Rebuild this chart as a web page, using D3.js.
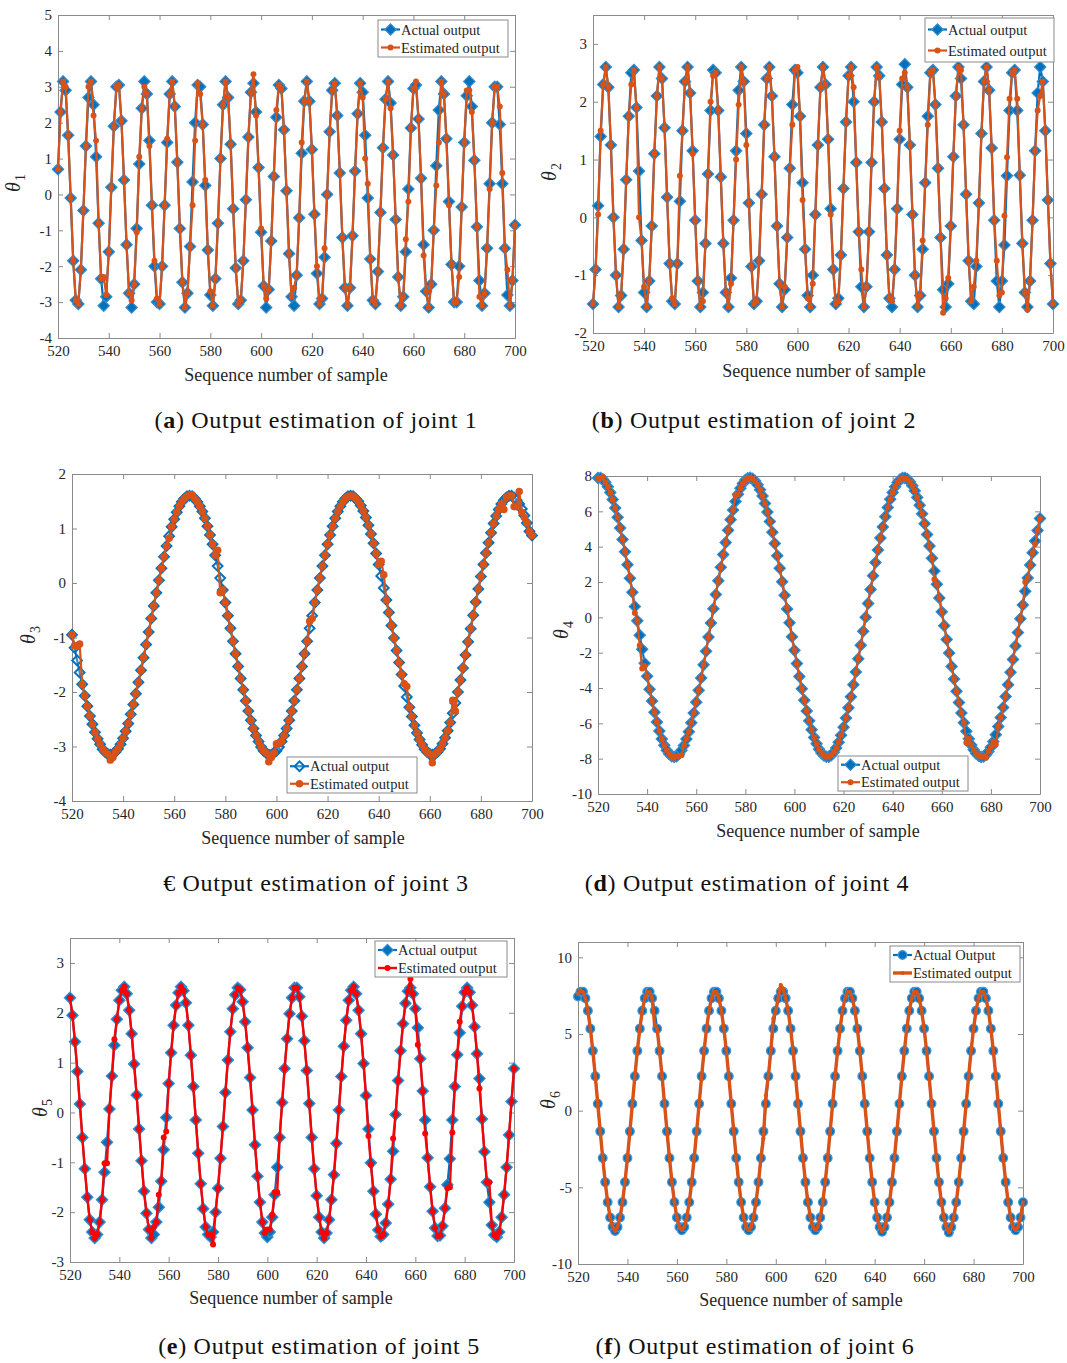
<!DOCTYPE html>
<html>
<head>
<meta charset="utf-8">
<script src="https://cdn.jsdelivr.net/npm/d3@7"></script>
<style>
  body { margin: 0; background: #fff; }
  svg { display: block; }
  text { font-family: "Liberation Serif", "Times New Roman", serif; }
</style>
</head>
<body>
<svg id="fig" width="1067" height="1363"></svg>
<script>
// ---- data -------------------------------------------------------------
const firstSample = 520;
const lastSample = 700;
const xTicks = [520, 540, 560, 580, 600, 620, 640, 660, 680, 700];

const yTicks1 = [-4, -3, -2, -1, 0, 1, 2, 3, 4, 5];
const yTicks2 = [-2, -1, 0, 1, 2, 3];
const yTicks3 = [-4, -3, -2, -1, 0, 1, 2];
const yTicks4 = [-10, -8, -6, -4, -2, 0, 2, 4, 6, 8];
const yTicks5 = [-3, -2, -1, 0, 1, 2, 3];
const yTicks6 = [-10, -5, 0, 5, 10];

// joint 1
const actual1 = [
  0.70, 2.30, 3.15, 2.90, 1.65, -0.10, -1.85, -2.95, -3.05, -2.10,
  -0.45, 1.35, 2.70, 3.15, 2.50, 1.05, -0.80, -2.35, -3.10, -2.85,
  -1.60, 0.20, 1.90, 3.00, 3.05, 2.05, 0.40, -1.40, -2.75, -3.15,
  -2.50, -0.95, 0.85, 2.40, 3.15, 2.80, 1.50, -0.30, -2.00, -3.00,
  -3.05, -2.00, -0.30, 1.45, 2.80, 3.15, 2.45, 0.90, -0.95, -2.45,
  -3.15, -2.75, -1.45, 0.35, 2.00, 3.05, 3.00, 1.95, 0.25, -1.55,
  -2.80, -3.10, -2.35, -0.80, 1.00, 2.50, 3.15, 2.70, 1.40, -0.40,
  -2.05, -3.05, -2.95, -1.85, -0.15, 1.60, 2.85, 3.10, 2.30, 0.75,
  -1.05, -2.55, -3.15, -2.65, -1.30, 0.50, 2.15, 3.05, 2.95, 1.80,
  0.10, -1.65, -2.85, -3.10, -2.25, -0.65, 1.15, 2.60, 3.15, 2.60,
  1.25, -0.55, -2.20, -3.05, -2.90, -1.75, 0.00, 1.75, 2.90, 3.10,
  2.20, 0.60, -1.20, -2.60, -3.10, -2.60, -1.15, 0.65, 2.25, 3.10,
  2.85, 1.65, -0.10, -1.80, -2.95, -3.05, -2.15, -0.50, 1.30, 2.65,
  3.15, 2.55, 1.10, -0.70, -2.30, -3.10, -2.85, -1.60, 0.15, 1.85,
  2.95, 3.05, 2.10, 0.45, -1.40, -2.70, -3.15, -2.50, -1.00, 0.80,
  2.35, 3.15, 2.80, 1.55, -0.20, -1.95, -3.00, -3.00, -2.00, -0.35,
  1.45, 2.75, 3.15, 2.45, 0.95, -0.90, -2.40, -3.10, -2.75, -1.50,
  0.30, 2.00, 3.00, 3.00, 1.95, 0.30, -1.50, -2.80, -3.10, -2.40,
  -0.85
];
const estimated1 = [
  0.70, 2.30, 3.15, 3.00, 1.65, -0.10, -1.85, -2.95, -3.05, -2.10,
  -0.45, 1.35, 3.00, 3.15, 2.20, 1.50, -0.80, -2.35, -2.30, -2.80,
  -1.60, 0.20, 1.90, 3.00, 3.05, 2.05, 0.40, -1.40, -2.75, -2.95,
  -2.50, -1.05, 1.05, 2.40, 3.00, 2.80, 1.35, -0.30, -1.85, -2.90,
  -3.05, -2.00, -0.30, 1.55, 2.80, 3.15, 2.45, 0.90, -0.95, -2.45,
  -3.15, -2.75, -1.45, -0.30, 1.50, 3.10, 2.80, 1.95, 0.40, -1.55,
  -2.70, -3.10, -2.35, -0.80, 1.00, 2.50, 3.15, 2.70, 1.40, -0.40,
  -2.05, -3.05, -2.95, -1.85, -0.15, 1.60, 2.85, 3.35, 2.20, 0.75,
  -0.95, -2.55, -2.90, -2.65, -1.30, 0.50, 2.35, 3.05, 2.95, 1.80,
  0.10, -1.65, -2.85, -2.60, -2.25, -0.65, 1.45, 2.60, 3.15, 2.60,
  1.25, -0.55, -2.00, -3.05, -2.90, -1.50, 0.00, 1.75, 2.90, 3.10,
  2.20, 0.60, -1.20, -2.60, -3.10, -2.60, -1.15, 0.65, 2.25, 3.10,
  2.70, 1.00, 0.30, -1.80, -2.95, -3.05, -2.15, -0.50, 1.30, 2.65,
  3.15, 2.40, 1.10, -0.70, -2.30, -3.10, -2.85, -1.25, -0.20, 1.85,
  2.95, 3.15, 2.10, 0.45, -1.70, -2.70, -3.15, -2.50, -1.00, 0.25,
  1.45, 3.15, 2.80, 1.55, -0.30, -1.95, -3.00, -3.00, -2.30, -0.35,
  1.45, 2.90, 2.90, 2.30, 0.95, -0.90, -2.85, -3.10, -2.75, -1.50,
  0.15, 2.00, 3.00, 3.00, 2.45, 0.60, -1.50, -2.10, -3.10, -2.40,
  -0.85
];

// joint 2
const actual2 = [
  -1.50, -0.90, 0.20, 1.40, 2.30, 2.60, 2.25, 1.25, 0.00, -1.00,
  -1.55, -1.35, -0.55, 0.65, 1.75, 2.50, 2.55, 1.90, 0.80, -0.40,
  -1.30, -1.55, -1.10, -0.15, 1.10, 2.10, 2.60, 2.40, 1.55, 0.35,
  -0.80, -1.45, -1.50, -0.80, 0.28, 1.50, 2.35, 2.60, 2.15, 1.15,
  -0.05, -1.10, -1.55, -1.30, -0.45, 0.75, 1.85, 2.55, 2.50, 1.85,
  0.70, -0.45, -1.30, -1.55, -1.05, -0.05, 1.15, 2.20, 2.60, 2.35,
  1.45, 0.25, -0.85, -1.50, -1.45, -0.75, 0.40, 1.60, 2.40, 2.60,
  2.10, 1.05, -0.15, -1.15, -1.55, -1.25, -0.35, 0.85, 1.95, 2.55,
  2.50, 1.75, 0.60, -0.55, -1.35, -1.55, -1.00, 0.05, 1.25, 2.25,
  2.60, 2.30, 1.35, 0.15, -0.90, -1.50, -1.40, -0.65, 0.50, 1.65,
  2.45, 2.60, 2.00, 0.95, -0.25, -1.20, -1.55, -1.20, -0.25, 0.95,
  2.00, 2.60, 2.45, 1.65, 0.50, -0.65, -1.40, -1.55, -0.90, 0.15,
  1.35, 2.30, 2.65, 2.25, 1.25, 0.05, -1.00, -1.55, -1.35, -0.55,
  0.60, 1.75, 2.50, 2.55, 1.95, 0.85, -0.35, -1.25, -1.55, -1.15,
  -0.15, 1.05, 2.10, 2.60, 2.40, 1.60, 0.40, -0.75, -1.45, -1.50,
  -0.85, 0.25, 1.45, 2.35, 2.60, 2.20, 1.20, -0.05, -1.10, -1.55,
  -1.10, -0.48, 0.72, 1.85, 2.50, 2.55, 1.85, 0.73, -0.45, -1.30,
  -1.55, -1.10, -0.05, 1.15, 2.15, 2.60, 2.35, 1.50, 0.30, -0.80,
  -1.50
];
const estimated2 = [
  -1.50, -0.90, 0.05, 1.50, 2.30, 2.60, 2.25, 1.25, 0.00, -1.00,
  -1.55, -1.35, -0.55, 0.65, 1.75, 2.30, 2.55, 1.90, 0.00, -0.40,
  -1.20, -1.55, -1.10, -0.15, 1.10, 2.10, 2.60, 2.40, 1.55, 0.35,
  -0.80, -1.40, -1.50, -0.80, 0.72, 1.50, 2.35, 2.60, 2.15, 1.10,
  -0.05, -1.10, -1.55, -1.45, -0.45, 0.75, 2.00, 2.45, 2.50, 1.85,
  0.70, -0.45, -1.30, -1.55, -1.15, -0.05, 1.00, 1.95, 2.60, 2.35,
  1.25, 0.25, -0.85, -1.50, -1.45, -0.75, 0.40, 1.60, 2.40, 2.60,
  2.10, 1.05, -0.15, -1.15, -1.55, -1.20, -0.35, 0.85, 1.60, 2.55,
  2.60, 1.75, 0.30, -0.55, -1.40, -1.55, -1.15, 0.05, 1.25, 2.25,
  2.60, 2.30, 1.35, 0.05, -0.90, -1.50, -1.45, -0.65, 0.50, 1.65,
  2.45, 2.60, 2.25, 0.95, -0.25, -0.90, -1.55, -1.20, -0.25, 0.95,
  2.00, 2.60, 2.45, 1.65, 0.50, -0.65, -1.40, -1.45, -0.90, 0.15,
  1.50, 2.40, 2.50, 2.25, 1.25, 0.05, -1.00, -1.55, -1.35, -0.40,
  0.60, 1.60, 2.50, 2.55, 1.95, 0.85, -0.35, -1.65, -1.40, -1.05,
  -0.15, 1.05, 2.10, 2.60, 2.55, 1.60, 0.40, -0.75, -1.45, -1.20,
  -0.75, 0.25, 1.45, 2.35, 2.60, 2.20, 1.20, -0.05, -0.75, -1.35,
  -1.30, 0.03, 1.04, 2.05, 2.50, 2.55, 2.05, 0.73, -0.45, -1.30,
  -1.60, -1.10, -0.05, 1.15, 1.85, 2.10, 2.35, 1.50, 0.30, -0.80,
  -1.50
];

// joint 3
const actual3 = [
  -0.95, -1.19, -1.42, -1.64, -1.86, -2.07, -2.26, -2.44, -2.59, -2.74,
  -2.86, -2.96, -3.05, -3.10, -3.14, -3.15, -3.14, -3.10, -3.04, -2.96,
  -2.85, -2.72, -2.58, -2.41, -2.23, -2.03, -1.82, -1.60, -1.37, -1.13,
  -0.90, -0.65, -0.42, -0.18, 0.05, 0.27, 0.48, 0.68, 0.86, 1.03,
  1.17, 1.30, 1.41, 1.49, 1.55, 1.59, 1.60, 1.59, 1.55, 1.49,
  1.41, 1.31, 1.19, 1.04, 0.88, 0.71, 0.51, 0.31, 0.09, -0.13,
  -0.36, -0.60, -0.83, -1.07, -1.30, -1.53, -1.75, -1.96, -2.16, -2.35,
  -2.52, -2.67, -2.80, -2.91, -3.01, -3.08, -3.12, -3.15, -3.15, -3.12,
  -3.08, -3.01, -2.91, -2.80, -2.67, -2.52, -2.35, -2.16, -1.96, -1.75,
  -1.53, -1.30, -1.07, -0.83, -0.60, -0.36, -0.13, 0.09, 0.31, 0.51,
  0.71, 0.88, 1.04, 1.19, 1.31, 1.41, 1.49, 1.55, 1.59, 1.60,
  1.59, 1.55, 1.50, 1.42, 1.32, 1.20, 1.06, 0.90, 0.73, 0.54,
  0.34, 0.13, -0.09, -0.31, -0.54, -0.78, -1.01, -1.24, -1.46, -1.68,
  -1.89, -2.09, -2.28, -2.45, -2.61, -2.75, -2.87, -2.97, -3.05, -3.10,
  -3.14, -3.15, -3.14, -3.10, -3.04, -2.95, -2.84, -2.71, -2.56, -2.39,
  -2.20, -2.00, -1.78, -1.56, -1.32, -1.08, -0.84, -0.59, -0.35, -0.11,
  0.12, 0.34, 0.55, 0.74, 0.92, 1.09, 1.23, 1.35, 1.45, 1.52,
  1.57, 1.60, 1.60, 1.57, 1.52, 1.45, 1.36, 1.24, 1.10, 0.95,
  0.87
];
const estimated3 = [
  -0.95, -1.15, -1.15, -1.12, -1.86, -2.07, -2.26, -2.44, -2.59, -2.74,
  -2.86, -2.96, -3.05, -3.10, -3.14, -3.25, -3.20, -3.10, -3.04, -2.96,
  -2.85, -2.72, -2.58, -2.41, -2.23, -2.03, -1.82, -1.60, -1.37, -1.13,
  -0.90, -0.65, -0.42, -0.18, 0.05, 0.27, 0.48, 0.68, 0.82, 1.03,
  1.17, 1.30, 1.41, 1.49, 1.55, 1.59, 1.62, 1.62, 1.55, 1.49,
  1.41, 1.31, 1.19, 1.04, 0.88, 0.71, 0.51, 0.60, -0.18, -0.13,
  -0.36, -0.60, -0.83, -1.07, -1.30, -1.53, -1.75, -1.96, -2.16, -2.35,
  -2.52, -2.67, -2.80, -2.91, -3.01, -3.08, -3.12, -3.28, -3.20, -3.12,
  -2.95, -2.95, -2.91, -2.80, -2.67, -2.52, -2.35, -2.16, -1.96, -1.75,
  -1.53, -1.30, -1.07, -0.70, -0.65, -0.36, -0.13, 0.09, 0.31, 0.51,
  0.71, 0.88, 1.04, 1.19, 1.31, 1.41, 1.49, 1.55, 1.59, 1.60,
  1.59, 1.55, 1.50, 1.42, 1.32, 1.20, 1.06, 0.90, 0.73, 0.54,
  0.34, 0.40, 0.15, -0.31, -0.54, -0.78, -1.01, -1.24, -1.46, -1.68,
  -1.85, -1.90, -2.28, -2.45, -2.61, -2.75, -2.87, -2.97, -3.05, -3.10,
  -3.14, -3.30, -3.14, -3.10, -3.04, -2.95, -2.84, -2.71, -2.56, -2.15,
  -2.35, -2.00, -1.78, -1.56, -1.32, -1.08, -0.84, -0.59, -0.35, -0.11,
  0.12, 0.34, 0.55, 0.74, 0.92, 1.09, 1.23, 1.35, 1.45, 1.35,
  1.57, 1.60, 1.60, 1.40, 1.40, 1.68, 1.30, 1.20, 1.10, 0.95,
  0.87
];

// joint 4
const actual4 = [
  7.89, 7.89, 7.81, 7.64, 7.39, 7.07, 6.67, 6.19, 5.66, 5.06,
  4.41, 3.71, 2.98, 2.21, 1.42, 0.61, -0.20, -1.01, -1.81, -2.60,
  -3.34, -4.07, -4.74, -5.37, -5.93, -6.44, -6.88, -7.24, -7.53, -7.73,
  -7.86, -7.90, -7.86, -7.74, -7.53, -7.25, -6.89, -6.47, -5.97, -5.41,
  -4.80, -4.13, -3.43, -2.69, -1.92, -1.12, -0.32, 0.48, 1.29, 2.07,
  2.83, 3.55, 4.23, 4.93, 5.53, 6.07, 6.56, 6.97, 7.31, 7.58,
  7.77, 7.87, 7.90, 7.84, 7.71, 7.50, 7.22, 6.87, 6.45, 5.96,
  5.42, 4.82, 4.18, 3.49, 2.78, 2.02, 1.25, 0.47, -0.31, -1.10,
  -1.87, -2.62, -3.35, -4.04, -4.69, -5.30, -5.86, -6.36, -6.80, -7.15,
  -7.46, -7.68, -7.82, -7.89, -7.89, -7.80, -7.63, -7.39, -7.07, -6.68,
  -6.22, -5.70, -5.12, -4.49, -3.81, -3.10, -2.35, -1.58, -0.79, 0.00,
  0.79, 1.58, 2.35, 3.10, 3.81, 4.49, 5.12, 5.70, 6.22, 6.68,
  7.07, 7.39, 7.63, 7.80, 7.89, 7.89, 7.82, 7.68, 7.45, 7.16,
  6.79, 6.35, 5.86, 5.30, 4.69, 4.04, 3.35, 2.62, 1.87, 1.10,
  0.31, -0.47, -1.25, -2.02, -2.78, -3.49, -4.18, -4.82, -5.42, -5.96,
  -6.45, -6.87, -7.22, -7.50, -7.71, -7.84, -7.90, -7.88, -7.78, -7.60,
  -7.35, -7.03, -6.64, -6.18, -5.67, -5.10, -4.48, -3.81, -3.11, -2.38,
  -1.62, -0.86, -0.08, 0.70, 1.47, 2.23, 2.96, 3.66, 4.32, 4.92,
  5.60
];
const estimated4 = [
  7.89, 7.89, 7.95, 7.64, 7.39, 7.07, 6.67, 6.19, 5.66, 5.06,
  4.41, 3.71, 2.98, 2.30, 1.42, 0.25, -0.20, -1.60, -2.90, -2.75,
  -3.34, -4.07, -4.74, -5.37, -5.93, -6.44, -6.88, -7.24, -7.53, -7.73,
  -7.86, -7.95, -7.86, -7.85, -7.80, -7.25, -6.89, -6.47, -5.97, -5.41,
  -4.80, -4.13, -3.43, -2.69, -1.92, -1.12, -0.32, 0.48, 1.29, 2.07,
  2.83, 3.55, 4.23, 4.93, 5.53, 6.07, 6.90, 6.97, 7.31, 7.58,
  7.77, 7.87, 7.90, 7.84, 7.71, 7.50, 7.22, 6.87, 6.45, 5.96,
  5.42, 4.82, 4.18, 3.49, 2.78, 2.02, 1.25, 0.55, -0.31, -1.10,
  -1.87, -2.62, -3.35, -4.04, -4.69, -5.30, -5.86, -6.36, -6.80, -7.15,
  -7.46, -7.68, -7.82, -7.89, -7.89, -7.80, -7.63, -7.39, -7.07, -6.68,
  -6.22, -5.70, -5.12, -4.49, -3.81, -3.10, -2.35, -1.58, -0.79, 0.00,
  0.79, 1.58, 2.35, 3.10, 3.81, 4.49, 5.12, 5.70, 6.22, 6.68,
  7.07, 7.39, 7.63, 7.80, 7.89, 7.89, 7.82, 7.68, 7.45, 7.16,
  6.79, 6.35, 5.86, 5.30, 4.69, 4.04, 3.35, 2.15, 1.87, 1.10,
  0.31, -0.47, -1.25, -2.02, -2.78, -3.49, -4.18, -4.82, -5.42, -5.96,
  -7.10, -6.87, -7.22, -7.50, -7.71, -7.84, -7.90, -7.88, -7.95, -7.60,
  -7.35, -7.03, -7.20, -6.18, -5.67, -5.10, -4.48, -3.81, -3.11, -2.38,
  -1.62, -0.86, -0.08, 0.70, 2.00, 2.23, 2.96, 3.66, 4.15, 4.92,
  5.60
];

// joint 5
const actual5 = [
  2.30, 1.95, 1.42, 0.82, 0.17, -0.50, -1.13, -1.70, -2.15, -2.40,
  -2.52, -2.45, -2.20, -1.75, -1.20, -0.60, 0.07, 0.73, 1.35, 1.87,
  2.25, 2.45, 2.52, 2.38, 2.05, 1.58, 0.97, 0.35, -0.33, -0.97,
  -1.58, -2.02, -2.35, -2.52, -2.45, -2.20, -1.90, -1.38, -0.75, -0.10,
  0.58, 1.20, 1.75, 2.15, 2.40, 2.52, 2.44, 2.20, 1.75, 1.15,
  0.52, -0.15, -0.82, -1.43, -1.93, -2.30, -2.45, -2.50, -2.40, -2.00,
  -1.52, -0.92, -0.28, 0.40, 1.05, 1.62, 2.08, 2.36, 2.50, 2.46,
  2.22, 1.82, 1.30, 0.70, 0.05, -0.65, -1.28, -1.80, -2.20, -2.42,
  -2.50, -2.40, -2.10, -1.65, -1.10, -0.50, 0.20, 0.88, 1.48, 1.98,
  2.30, 2.50, 2.50, 2.32, 1.93, 1.44, 0.84, 0.18, -0.50, -1.13,
  -1.67, -2.10, -2.40, -2.52, -2.42, -2.15, -1.75, -1.25, -0.62, 0.05,
  0.72, 1.33, 1.85, 2.25, 2.45, 2.52, 2.38, 2.05, 1.58, 0.98,
  0.34, -0.33, -1.01, -1.58, -2.04, -2.36, -2.49, -2.45, -2.22, -1.84,
  -1.34, -0.78, -0.04, 0.64, 1.24, 1.78, 2.19, 2.43, 2.50, 2.38,
  2.08, 1.70, 1.08, 0.43, -0.15, -0.91, -1.49, -1.98, -2.32, -2.48,
  -2.47, -2.28, -1.92, -1.45, -0.93, -0.15, 0.52, 1.16, 1.60, 2.13,
  2.41, 2.50, 2.41, 2.15, 1.72, 1.18, 0.68, -0.13, -0.79, -1.40,
  -1.80, -2.26, -2.46, -2.50, -2.40, -2.10, -1.65, -1.10, -0.45, 0.22,
  0.88
];
const estimated5 = [
  2.30, 1.95, 1.42, 0.82, 0.17, -0.50, -1.13, -1.70, -2.15, -2.40,
  -2.52, -2.45, -2.20, -1.75, -1.02, -1.02, 0.07, 0.73, 1.47, 1.87,
  2.25, 2.45, 2.52, 2.38, 2.05, 1.58, 0.97, 0.35, -0.33, -0.97,
  -1.58, -2.02, -2.35, -2.52, -2.30, -2.20, -1.65, -1.38, -0.50, -0.38,
  0.58, 1.20, 1.75, 2.15, 2.40, 2.52, 2.44, 2.20, 1.75, 1.15,
  0.52, -0.15, -0.82, -1.43, -1.93, -2.30, -2.45, -2.45, -2.65, -2.00,
  -1.52, -0.92, -0.28, 0.40, 1.05, 1.62, 2.08, 2.36, 2.50, 2.46,
  2.22, 1.82, 1.30, 0.70, 0.05, -0.65, -1.28, -1.80, -2.20, -2.42,
  -2.35, -2.35, -2.05, -1.60, -1.60, -0.50, 0.20, 0.88, 1.48, 1.98,
  2.30, 2.50, 2.50, 2.32, 1.93, 1.44, 0.84, 0.18, -0.50, -1.13,
  -1.67, -2.10, -2.40, -2.52, -2.42, -2.15, -1.75, -1.25, -0.62, 0.05,
  0.72, 1.33, 1.85, 2.25, 2.45, 2.52, 2.38, 2.05, 1.58, 0.98,
  0.34, -0.47, -1.05, -1.58, -2.04, -2.36, -2.49, -2.45, -2.22, -1.84,
  -1.34, -0.52, -0.04, 0.64, 1.24, 1.78, 2.19, 2.43, 2.68, 2.38,
  2.08, 1.36, 1.08, 0.43, -0.42, -0.91, -1.49, -1.98, -2.32, -2.48,
  -2.47, -2.28, -1.92, -1.52, -1.50, -0.40, 0.52, 1.16, 1.82, 2.13,
  2.41, 2.50, 2.41, 2.15, 1.72, 1.18, 0.48, -0.13, -0.79, -1.40,
  -1.40, -2.26, -2.46, -2.50, -2.40, -2.10, -1.65, -1.10, -0.45, 0.22,
  0.88
];

// joint 6
const actual6 = [
  7.45, 7.75, 7.75, 7.33, 6.52, 5.35, 3.90, 2.24, 0.45, -1.35,
  -3.09, -4.66, -5.97, -6.97, -7.59, -7.85, -7.59, -6.97, -5.97, -4.66,
  -3.09, -1.35, 0.45, 2.24, 3.90, 5.35, 6.52, 7.33, 7.75, 7.75,
  7.33, 6.52, 5.35, 3.90, 2.24, 0.45, -1.35, -3.09, -4.66, -5.97,
  -6.97, -7.59, -7.80, -7.59, -6.97, -5.97, -4.66, -3.09, -1.35, 0.45,
  2.24, 3.90, 5.35, 6.52, 7.33, 7.75, 7.75, 7.33, 6.52, 5.35,
  3.90, 2.24, 0.45, -1.35, -3.09, -4.66, -5.97, -6.97, -7.59, -7.80,
  -7.59, -6.97, -5.97, -4.66, -3.09, -1.35, 0.45, 2.24, 3.90, 5.35,
  6.52, 7.33, 7.75, 7.75, 7.33, 6.52, 5.35, 3.90, 2.24, 0.45,
  -1.35, -3.09, -4.66, -5.97, -6.97, -7.59, -7.80, -7.59, -6.97, -5.97,
  -4.66, -3.09, -1.35, 0.45, 2.24, 3.90, 5.35, 6.52, 7.33, 7.75,
  7.75, 7.33, 6.52, 5.35, 3.90, 2.24, 0.45, -1.35, -3.09, -4.66,
  -5.97, -6.97, -7.59, -7.90, -7.59, -6.97, -5.97, -4.66, -3.09, -1.35,
  0.45, 2.24, 3.90, 5.35, 6.52, 7.33, 7.75, 7.75, 7.33, 6.52,
  5.35, 3.90, 2.24, 0.45, -1.35, -3.09, -4.66, -5.97, -6.97, -7.59,
  -7.95, -7.59, -6.97, -5.97, -4.66, -3.09, -1.35, 0.45, 2.24, 3.90,
  5.35, 6.52, 7.33, 7.75, 7.75, 7.33, 6.52, 5.35, 3.90, 2.24,
  0.45, -1.35, -3.09, -4.66, -5.97, -6.97, -7.59, -7.80, -7.59, -6.97,
  -5.97
];
const estimated6 = [
  7.60, 7.85, 7.75, 7.33, 6.52, 5.35, 3.90, 2.24, 0.45, -1.35,
  -3.09, -4.66, -5.97, -6.97, -7.59, -7.85, -7.59, -6.97, -5.97, -4.66,
  -3.09, -1.35, 0.45, 2.24, 3.90, 5.35, 6.52, 7.33, 7.75, 7.75,
  7.33, 5.60, 5.35, 3.90, 2.24, 0.45, -1.35, -3.09, -4.66, -5.97,
  -6.97, -7.59, -7.80, -7.59, -6.97, -5.97, -4.66, -3.09, -1.35, 0.45,
  2.24, 3.90, 5.35, 6.52, 7.33, 7.75, 7.75, 7.33, 6.52, 5.35,
  3.90, 2.24, 0.45, -1.35, -3.09, -4.66, -5.97, -6.97, -7.59, -7.80,
  -7.59, -6.97, -5.97, -4.66, -3.09, -1.80, 1.00, 2.24, 3.90, 6.00,
  6.52, 7.33, 8.20, 7.95, 7.33, 6.52, 5.35, 3.90, 2.24, 0.45,
  -1.35, -3.09, -4.66, -5.97, -6.97, -7.59, -7.80, -7.59, -6.97, -5.97,
  -4.66, -3.09, -1.35, 0.45, 2.24, 3.90, 5.35, 6.52, 7.33, 7.75,
  7.75, 7.33, 6.52, 5.35, 3.90, 2.24, 0.45, -1.35, -3.09, -4.66,
  -5.97, -6.97, -7.59, -7.90, -7.59, -6.97, -5.97, -4.66, -3.09, -1.35,
  0.45, 2.24, 3.90, 5.35, 6.52, 7.33, 7.75, 7.75, 7.33, 6.52,
  5.35, 3.90, 2.24, 0.45, -1.35, -3.09, -4.66, -5.97, -6.97, -7.59,
  -7.95, -7.59, -6.97, -5.97, -4.66, -3.09, -1.35, 0.45, 2.24, 3.90,
  5.35, 6.52, 7.33, 7.75, 7.75, 7.33, 6.52, 5.35, 3.90, 2.24,
  0.45, -1.35, -3.09, -4.66, -5.97, -6.97, -7.59, -7.80, -7.59, -6.97,
  -5.97
];

const legendActual = "Actual output";
const legendActualF = "Actual Output";
const legendEstimated = "Estimated output";
const captionText = " Output estimation of joint ";

// ---- drawing ----------------------------------------------------------
const BLUE = "#0072BD";
const ORANGE = "#D95319";
const RED = "#FF0000";
const AXIS = "#8a8a8a";
const INK = "#262626";

const svg = d3.select("#fig");

const panels = [
  { key: "a", joint: 1, actual: actual1, est: estimated1, yTicks: yTicks1, yDomain: [-4, 5],
    box: { l: 58, r: 515, t: 15, b: 338 }, legend: { x: 378, y: 20, w: 130, h: 37, gap: 18 },
    ylab: { x: 20, y: 183 }, xlab: { x: 286, y: 381 }, cap: { x: 316, y: 428 },
    actualStyle: "diamond", estColor: ORANGE, estWidth: 2.2, actualLabel: legendActual },
  { key: "b", joint: 2, actual: actual2, est: estimated2, yTicks: yTicks2, yDomain: [-2, 3.5],
    box: { l: 593, r: 1053, t: 15, b: 333 }, legend: { x: 925, y: 18, w: 129, h: 44, gap: 21 },
    ylab: { x: 556, y: 172 }, xlab: { x: 824, y: 377 }, cap: { x: 754, y: 428 },
    actualStyle: "diamond", estColor: ORANGE, estWidth: 2.2, actualLabel: legendActual },
  { key: "c", joint: 3, actual: actual3, est: estimated3, yTicks: yTicks3, yDomain: [-4, 2],
    box: { l: 72, r: 532, t: 474, b: 801 }, legend: { x: 287, y: 757, w: 130, h: 36, gap: 17.5 },
    ylab: { x: 35, y: 635 }, xlab: { x: 303, y: 844 }, cap: { x: 316, y: 891 },
    actualStyle: "hollow", estColor: ORANGE, estWidth: 2.2, actualLabel: legendActual, capLabel: "€" },
  { key: "d", joint: 4, actual: actual4, est: estimated4, yTicks: yTicks4, yDomain: [-10, 8],
    box: { l: 598, r: 1040, t: 476, b: 794 }, legend: { x: 838, y: 756, w: 130, h: 35, gap: 17.5 },
    ylab: { x: 568, y: 630 }, xlab: { x: 818, y: 837 }, cap: { x: 747, y: 891 },
    actualStyle: "diamond", estColor: ORANGE, estWidth: 2.2, actualLabel: legendActual },
  { key: "e", joint: 5, actual: actual5, est: estimated5, yTicks: yTicks5, yDomain: [-3, 3.5],
    box: { l: 70, r: 514, t: 938, b: 1262 }, legend: { x: 375, y: 941, w: 132, h: 36, gap: 18 },
    ylab: { x: 47, y: 1108 }, xlab: { x: 291, y: 1304 }, cap: { x: 319, y: 1354 },
    actualStyle: "diamond", estColor: RED, estWidth: 2.4, actualLabel: legendActual },
  { key: "f", joint: 6, actual: actual6, est: estimated6, yTicks: yTicks6, yDomain: [-10, 11],
    box: { l: 578, r: 1023, t: 942, b: 1264 }, legend: { x: 890, y: 946, w: 130, h: 36, gap: 18 },
    ylab: { x: 555, y: 1100 }, xlab: { x: 801, y: 1306 }, cap: { x: 755, y: 1354 },
    actualStyle: "circle", estColor: ORANGE, estWidth: 3.4, actualLabel: legendActualF }
];

const diamond = d3.symbol(d3.symbolDiamond2, 82);
const diamondHollow = d3.symbol(d3.symbolDiamond2, 60);
const dot = d3.symbol(d3.symbolCircle, 28);
const dotC = d3.symbol(d3.symbolCircle, 44);
const blueCircle = d3.symbol(d3.symbolCircle, 60);
const tinyMark = d3.symbol(d3.symbolCircle, 12);

function actualMarker(sel, style) {
  if (style === "hollow") {
    sel.attr("d", diamondHollow()).attr("fill", "#fff").attr("fill-opacity", 0.2)
      .attr("stroke", BLUE).attr("stroke-width", 2);
  } else if (style === "circle") {
    sel.attr("d", blueCircle()).attr("fill", BLUE).attr("stroke", "#4a97d3").attr("stroke-width", 1.2);
  } else {
    sel.attr("d", diamond()).attr("fill", BLUE).attr("stroke", "#3a8dcc").attr("stroke-width", 1.2);
  }
}
function estMarker(sel, p) {
  if (p.actualStyle === "circle") {
    sel.attr("d", tinyMark()).attr("fill", p.estColor);
  } else if (p.actualStyle === "hollow") {
    sel.attr("d", dotC()).attr("fill", p.estColor);
  } else {
    sel.attr("d", dot()).attr("fill", p.estColor);
  }
}

panels.forEach(p => {
  const g = svg.append("g").attr("class", "panel-" + p.key);
  const x = d3.scaleLinear().domain([firstSample, lastSample]).range([p.box.l, p.box.r]);
  const y = d3.scaleLinear().domain(p.yDomain).range([p.box.b, p.box.t]);

  // axes with inward ticks on all four sides
  const axB = g.append("g").attr("transform", `translate(0,${p.box.b})`)
    .call(d3.axisBottom(x).tickValues(xTicks).tickSize(-5).tickSizeOuter(0).tickPadding(9).tickFormat(d3.format("d")));
  const axL = g.append("g").attr("transform", `translate(${p.box.l},0)`)
    .call(d3.axisLeft(y).tickValues(p.yTicks).tickSize(-5).tickSizeOuter(0).tickPadding(6).tickFormat(d => d < 0 ? "-" + Math.abs(d) : d));
  const axT = g.append("g").attr("transform", `translate(0,${p.box.t})`)
    .call(d3.axisTop(x).tickValues(xTicks).tickSize(-5).tickSizeOuter(0).tickFormat(""));
  const axR = g.append("g").attr("transform", `translate(${p.box.r},0)`)
    .call(d3.axisRight(y).tickValues(p.yTicks).tickSize(-5).tickSizeOuter(0).tickFormat(""));
  [axB, axL, axT, axR].forEach(a => {
    a.select(".domain").attr("stroke", AXIS).attr("stroke-width", 1);
    a.selectAll(".tick line").attr("stroke", AXIS).attr("stroke-width", 1);
    a.selectAll(".tick text").attr("fill", INK).attr("font-size", 15)
      .attr("font-family", "'Liberation Serif', serif");
  });
  // x tick labels sit a little lower so the corner labels stay apart
  axB.selectAll(".tick text").attr("dy", "0.62em");

  const xs = (d, i) => x(firstSample + i);
  const line = d3.line().x(xs).y(d => y(d));

  // actual output
  g.append("path").datum(p.actual).attr("d", line).attr("fill", "none")
    .attr("stroke", BLUE).attr("stroke-width", 2.2).attr("stroke-linejoin", "round");
  g.append("g").selectAll("path").data(p.actual).join("path")
    .attr("transform", (d, i) => `translate(${xs(d, i)},${y(d)})`)
    .call(actualMarker, p.actualStyle);

  // estimated output
  g.append("path").datum(p.est).attr("d", line).attr("fill", "none")
    .attr("stroke", p.estColor).attr("stroke-width", p.estWidth).attr("stroke-linejoin", "round");
  g.append("g").selectAll("path").data(p.est).join("path")
    .attr("transform", (d, i) => `translate(${xs(d, i)},${y(d)})`)
    .call(estMarker, p);

  // legend
  const L = p.legend;
  const lg = g.append("g").attr("transform", `translate(${L.x},${L.y})`);
  lg.append("rect").attr("width", L.w).attr("height", L.h)
    .attr("fill", "#fff").attr("stroke", AXIS).attr("stroke-width", 1);
  const rows = [
    { label: p.actualLabel, kind: "actual" },
    { label: legendEstimated, kind: "est" }
  ];
  rows.forEach((r, i) => {
    const cy = L.h / 2 + (i - 0.5) * L.gap;
    const isA = r.kind === "actual";
    lg.append("line").attr("x1", 3).attr("x2", 22).attr("y1", cy).attr("y2", cy)
      .attr("stroke", isA ? BLUE : p.estColor).attr("stroke-width", isA ? 2.2 : p.estWidth);
    const m = lg.append("path").attr("transform", `translate(12.5,${cy})`);
    if (isA) actualMarker(m, p.actualStyle); else estMarker(m, p);
    lg.append("text").attr("x", 23).attr("y", cy + 5).attr("font-size", 14.5)
      .attr("fill", INK).text(r.label);
  });

  // axis titles
  g.append("text").attr("x", p.xlab.x).attr("y", p.xlab.y).attr("text-anchor", "middle")
    .attr("font-size", 18).attr("fill", INK).text("Sequence number of sample");
  const yl = g.append("text").attr("transform", `translate(${p.ylab.x},${p.ylab.y}) rotate(-90)`)
    .attr("text-anchor", "middle").attr("fill", INK);
  yl.append("tspan").attr("font-style", "italic").attr("font-size", 20).text("θ");
  yl.append("tspan").attr("font-size", 14).attr("dy", 5).attr("dx", 1).text(p.joint);

  // caption
  const cap = svg.append("text").attr("x", p.cap.x).attr("y", p.cap.y)
    .attr("text-anchor", "middle").attr("font-size", 24).attr("letter-spacing", 0.7)
    .attr("fill", "#111");
  if (p.capLabel) {
    cap.append("tspan").text(p.capLabel);
  } else {
    cap.append("tspan").text("(");
    cap.append("tspan").attr("font-weight", "bold").text(p.key);
    cap.append("tspan").text(")");
  }
  cap.append("tspan").text(captionText + p.joint);
});
</script>
</body>
</html>
